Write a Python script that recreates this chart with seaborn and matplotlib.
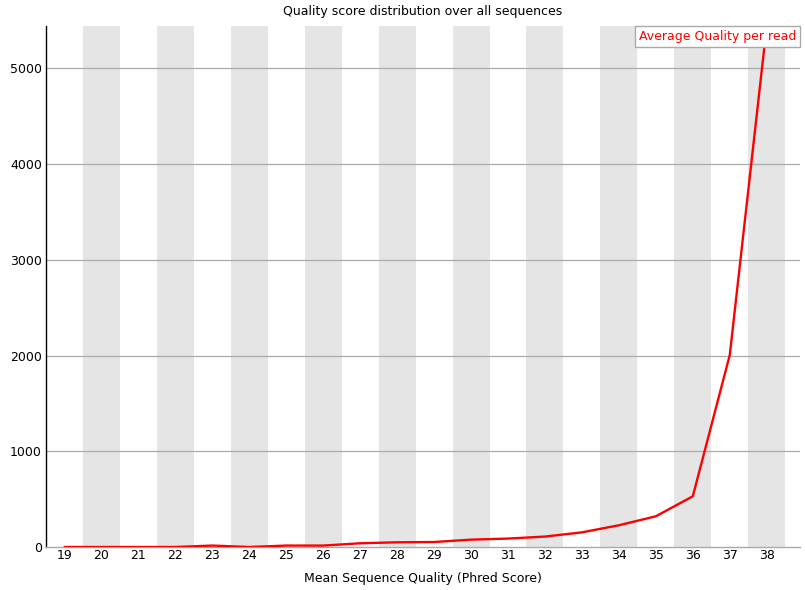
import numpy as np
import pandas as pd
import matplotlib
matplotlib.use("Agg")
import matplotlib.pyplot as plt
import seaborn as sns

quality = list(range(19, 39))
counts = [0, 0, 0, 0, 15, 0, 15, 15, 39, 49, 52, 77, 88, 109, 153, 227, 321, 530, 2006, 5444]
y_ticks = [0, 1000, 2000, 3000, 4000, 5000]

df = pd.DataFrame({"quality": quality, "count": counts})

sns.set_style("white")
plt.rcParams['font.family'] = ['DejaVu Sans']
plt.rcParams.update({'text.color': 'black', 'xtick.color': 'black',
                     'ytick.color': 'black', 'axes.labelcolor': 'black'})

fig = plt.figure(figsize=(8.05, 5.9), dpi=100)
ax = fig.add_axes([46 / 805, 43 / 590, 754 / 805, 521 / 590])

# alternating bands like FastQC
for q in quality:
    if q % 2 == 0:
        ax.axvspan(q - 0.5, q + 0.5, color="#e5e5e5", lw=0, zorder=0)

for t in y_ticks[1:]:
    ax.axhline(t, color="#aaaaaa", lw=0.9, zorder=1)

sns.lineplot(data=df, x="quality", y="count", color="#ff0000", lw=1.7,
             ax=ax, zorder=3, label="Average Quality per read")

ax.set_xlim(18.5, 38.9)
ax.set_ylim(0, max(counts))
ax.set_xticks(quality)
ax.set_yticks(y_ticks)
ax.tick_params(axis="both", length=0, labelsize=9, pad=3, colors="black")
ax.tick_params(axis="x", pad=1.5)
ax.set_xlabel("Mean Sequence Quality (Phred Score)", fontsize=9, labelpad=7)
ax.set_ylabel("")
ax.set_title("Quality score distribution over all sequences", fontsize=9, pad=8)

for s in ["top", "right"]:
    ax.spines[s].set_visible(False)
ax.spines["left"].set_color("black")
ax.spines["left"].set_linewidth(1)
ax.spines["bottom"].set_color("#aaaaaa")
ax.spines["bottom"].set_linewidth(1)

leg = ax.legend(loc="upper right", handlelength=0, handletextpad=0,
                fontsize=9, frameon=True, fancybox=False, framealpha=1,
                borderaxespad=0, borderpad=0.3, edgecolor="#aaaaaa")
leg.get_frame().set_linewidth(1)
for h in leg.legend_handles:
    h.set_visible(False)
for txt in leg.get_texts():
    txt.set_color("#ff0000")
leg.set_zorder(5)

fig.savefig("out.png", dpi=100)
